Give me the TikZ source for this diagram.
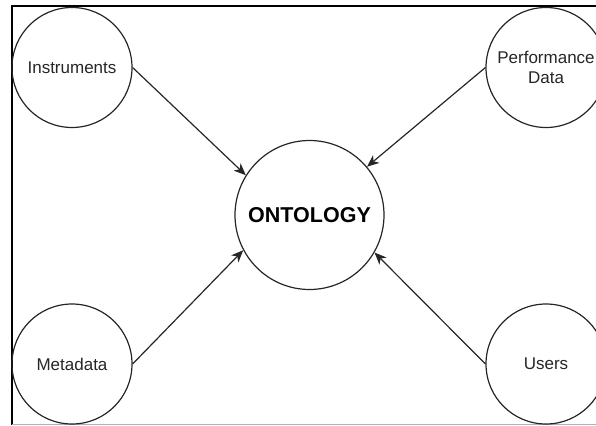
\documentclass[tikz,border=0pt]{standalone}
\usepackage{fontspec}
\setmainfont{Liberation Sans}
\usetikzlibrary{arrows.meta}
\begin{document}
\begin{tikzpicture}[x=1pt,y=-1pt,
  ent/.style={circle,draw=black!85,line width=1.2pt,minimum size=120pt,inner sep=0pt,align=center,font=\fontsize{17}{19.5}\selectfont,text=black!85},
  core/.style={circle,draw=black!85,line width=1.2pt,minimum size=149pt,inner sep=0pt,font=\fontsize{21.5}{24}\selectfont\bfseries},
  link/.style={line width=1.2pt,draw=black!85,-{Stealth[length=12pt,width=10pt,inset=3.5pt]}}]
\useasboundingbox (0,0) rectangle (596,425);
\clip (0,0) rectangle (596,425);
\draw[line width=2pt] (11.5,425) -- (11.5,6.5) -- (600,6.5);
\draw[black!30,line width=1pt] (11.5,424) -- (600,424);
\node[ent] (ins) at (72,67.5) {Instruments};
\node[ent] (perf) at (546,67.5) {Performance\\Data};
\node[ent] (meta) at (72,364) {Metadata};
\node[ent] (usr) at (546,364) {Users};
\node[core] (onto) at (309.5,215) {ONTOLOGY};
\draw[link] (ins.east) -- (onto.148.5);
\draw[link] (perf.west) -- (onto.40);
\draw[link] (meta.east) -- (onto.208);
\draw[link] (usr.west) -- (onto.330);
\end{tikzpicture}
\end{document}
